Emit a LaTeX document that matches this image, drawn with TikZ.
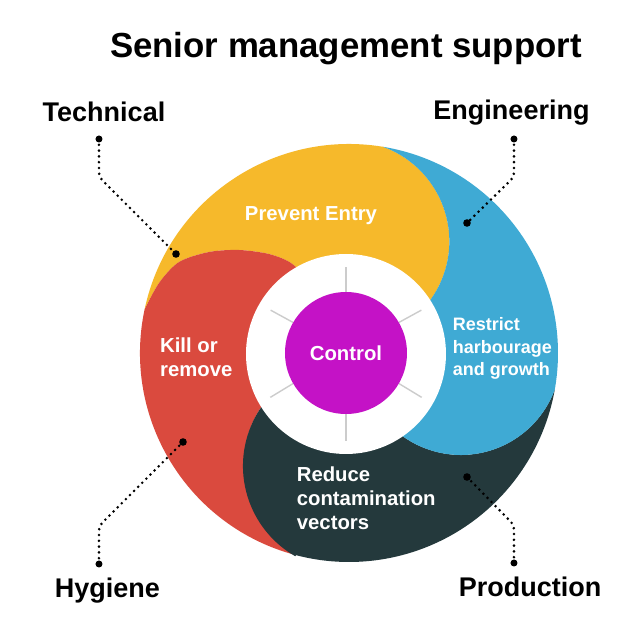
\documentclass[tikz,border=0pt]{standalone}
\usepackage{fontspec}
\setmainfont{Liberation Sans}
\definecolor{entrycolor}{HTML}{F6B92B}
\definecolor{killcolor}{HTML}{DA4A3E}
\definecolor{restrictcolor}{HTML}{3FAAD4}
\definecolor{reducecolor}{HTML}{24393C}
\definecolor{controlcolor}{HTML}{C412C6}
\begin{document}
\begin{tikzpicture}[x=1pt, y=1pt]
% Definição de estilos
\tikzset{
  corner/.style={font=\fontsize{27}{32}\selectfont\bfseries, inner sep=0pt, anchor=base},
  seglabel/.style={text=white, font=\fontsize{20.3}{24}\selectfont\bfseries, inner sep=0pt, align=left, anchor=base west},
  dotline/.style={line width=2.9pt, dash pattern=on 0pt off 5.8pt, line cap=round, rounded corners=5pt},
  spoke/.style={draw=gray!40, line width=1.4pt}
}

% Fundo
\useasboundingbox (-349,-276) rectangle (284,353);
\fill[white] (-349,-276) rectangle (284,353);

% Título
\node[font=\fontsize{34.8}{40}\selectfont\bfseries, inner sep=0pt, anchor=base] (title) at (-3,295) {Senior management support};

% Setores do anel
\fill[entrycolor] (80.7:209) arc[start angle=80.7, end angle=168, radius=209]
  -- plot[smooth] coordinates {(168:209) (-190,70) (-170,91) (-140,101) (-110,103) (-80,99) (-58,90) (-40,72) (-28,50)}
  -- (0,0) -- (50.2,24.8) arc[start angle=-60, end angle=70.3, radius=100.4] -- cycle;
\fill[killcolor] (168:209) arc[start angle=168, end angle=255.3, radius=209]
  arc[start angle=240.2, end angle=110, radius=104] -- (0,0)
  -- plot[smooth] coordinates {(-28,50) (-40,72) (-58,90) (-80,99) (-110,103) (-140,101) (-170,91) (-190,70) (168:209)} -- cycle;
\fill[reducecolor] (255.3:209) arc[start angle=255.3, end angle=350, radius=209]
  arc[start angle=-20.1, end angle=-160, radius=100] -- (0,0)
  -- (-37.6,-15.3) arc[start angle=110, end angle=240.2, radius=104] -- cycle;
\fill[restrictcolor] (-10:209) arc[start angle=-10, end angle=80.7, radius=209]
  arc[start angle=70.3, end angle=-60, radius=100.4] -- (0,0)
  -- (18,-36.2) arc[start angle=-160, end angle=-20.1, radius=100] -- cycle;

% Centro
\node[circle, fill=white, minimum size=200pt, inner sep=0pt] (ring) at (-3,-1) {};
\node[circle, fill=controlcolor, minimum size=122pt, inner sep=0pt, text=white, font=\fontsize{20.3}{24}\selectfont\bfseries] (control) at (-3,0) {Control};
\foreach \a in {30,90,...,330}
  \draw[spoke, shorten >=13pt] (control.\a) -- (ring.\a);

% Textos dos setores
\node[seglabel, anchor=base] (entry) at (-38,132) {Prevent Entry};
\node[seglabel] (kill) at (-189,-24) {Kill or\\remove};
\node[seglabel, font=\fontsize{18}{22.7}\selectfont\bfseries] (restrict) at (103.7,-23) {Restrict\\harbourage\\and growth};
\node[seglabel] (reduce) at (-52.3,-177) {Reduce\\contamination\\vectors};

% Rótulos dos cantos
\node[corner] (technical) at (-245,231) {Technical};
\node[corner] (engineering) at (162.5,233) {Engineering};
\node[corner] (hygiene) at (-241.5,-245) {Hygiene};
\node[corner] (production) at (181,-244) {Production};

% Conectores pontilhados
\coordinate (techtop) at (-250,214);
\coordinate (techbend) at (-250,176);
\coordinate (techend) at (-173,99);
\coordinate (engtop) at (165,214);
\coordinate (engbend) at (165,176);
\coordinate (engend) at (118,130);
\coordinate (hygtop) at (-250,-211);
\coordinate (hygbend) at (-250,-173);
\coordinate (hygend) at (-166,-89);
\coordinate (prodtop) at (165,-210);
\coordinate (prodbend) at (165,-172);
\coordinate (prodend) at (118,-124);
\foreach \c in {tech,eng,hyg,prod} {
  \draw[dotline] (\c top) -- (\c bend) -- (\c end);
  \fill (\c top) circle (3.5);
  \fill (\c end) circle (3.8);
}

\end{tikzpicture}
\end{document}
